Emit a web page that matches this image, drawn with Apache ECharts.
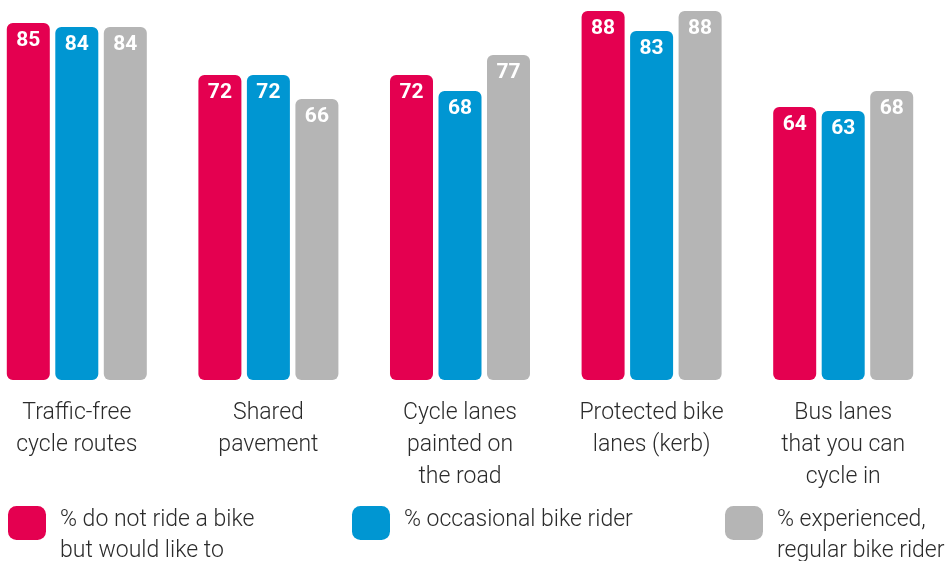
<!DOCTYPE html>
<html><head><meta charset="utf-8">
<script src="https://cdn.jsdelivr.net/npm/echarts@6/dist/echarts.min.js"></script>
<style>html,body{margin:0;padding:0;background:#fff}#c{width:947px;height:561px}</style>
</head><body><div id="c"></div>
<script>
const categories = ['Traffic-free\ncycle routes', 'Shared\npavement', 'Cycle lanes\npainted on\nthe road', 'Protected bike\nlanes (kerb)', 'Bus lanes\nthat you can\ncycle in'];
const seriesNames = ['% do not ride a bike but would like to', '% occasional bike rider', '% experienced, regular bike rider'];
const legendLine1 = ['% do not ride a bike', '% occasional bike rider', '% experienced,'];
const legendLine2 = ['but would like to', ' ', 'regular bike rider'];
const nonRiders = [85, 72, 72, 88, 64];
const occasional = [84, 72, 68, 83, 63];
const experienced = [84, 66, 77, 88, 68];
const colors = ['#E40050', '#0096D2', '#B5B5B5'];

const chart = echarts.init(document.getElementById('c'));
const values = [nonRiders, occasional, experienced];
const font = 'Roboto, "Noto Sans", sans-serif';
const series = values.map((v, i) => ({
  name: seriesNames[i],
  type: 'bar',
  data: v,
  barWidth: 43,
  barGap: '12.8%',
  itemStyle: { color: colors[i], borderRadius: 6 },
  label: {
    show: true, position: 'insideTop', distance: 7,
    color: '#fff', fontFamily: font, fontWeight: 'bold', fontSize: 21
  }
}));
const legendPos = [8, 352, 725];
const legendText = { fontFamily: font, fontWeight: 300, fontSize: 23, color: '#2b2b2b' };
const legends = seriesNames.map((n, i) => ({
  data: [n], left: legendPos[i], top: 506, orient: 'horizontal', padding: 0,
  icon: 'roundRect', itemWidth: 38, itemHeight: 34,
  formatter: () => '{a|' + legendLine1[i] + '}\n{b|' + legendLine2[i] + '}',
  selectedMode: false,
  textStyle: Object.assign({}, legendText, {
    padding: [0, 0, 0, 9],
    rich: {
      a: Object.assign({}, legendText, { lineHeight: 56 }),
      b: Object.assign({}, legendText, { lineHeight: 6 })
    }
  })
}));
chart.setOption({
  animation: false,
  grid: { left: -19, right: 8, top: 3, bottom: 181, containLabel: false, outerBoundsMode: 'none' },
  legend: legends,
  xAxis: {
    type: 'category', data: categories,
    axisLine: { show: false }, axisTick: { show: false },
    axisLabel: { interval: 0, margin: 17, fontFamily: font, fontWeight: 300, fontSize: 23, lineHeight: 32, color: '#2b2b2b' }
  },
  yAxis: {
    type: 'value', min: -4.25, max: 90, startValue: -4.25, show: false,
    splitLine: { show: false }
  },
  series: series
});
</script></body></html>
